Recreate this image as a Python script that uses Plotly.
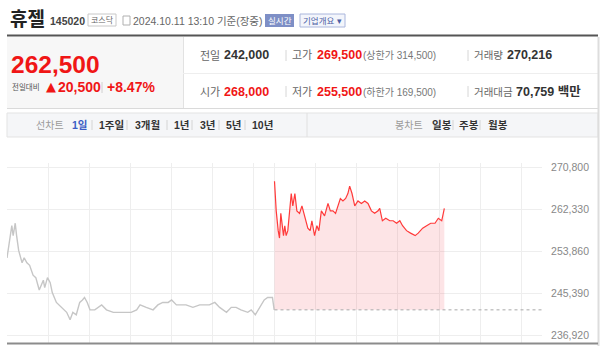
import plotly.graph_objects as go

# ---------------- data ----------------
prev_close = 242000
ytick_vals = [236920, 245390, 253860, 262330, 270800]
ytick_text = ["236,920", "245,390", "253,860", "262,330", "270,800"]
hour_grid = [0, 60, 120, 180, 240, 300, 360, 390, 450, 510, 570, 630, 690, 750]

# previous session (2024.10.10), minutes since 09:00
day1_min = [0, 4, 7, 9, 12, 14, 17, 22, 25, 29, 33, 38, 42, 47, 53, 55, 59, 63, 66, 72,
            80, 87, 92, 96, 101, 106, 110, 113, 117, 121, 128, 138, 145, 155, 164, 174, 181,
            189, 194, 203, 213, 220, 227, 235, 240, 247, 254, 261, 271, 281, 288, 295, 303,
            310, 320, 327, 334, 341, 351, 356, 362, 368, 375, 380, 387, 389.5]
day1_price = [252500, 256000, 259000, 257000, 259500, 257000, 254000, 251500, 252500, 251500,
              251000, 249000, 248500, 246000, 248000, 246500, 248500, 247500, 245500, 243500,
              242500, 241500, 240000, 241500, 241000, 243500, 244000, 244500, 243500, 242000,
              242000, 243000, 242000, 241500, 241500, 241500, 241500, 242000, 243000, 242500,
              242000, 243000, 243500, 243500, 244000, 243000, 243000, 243000, 242500, 243000,
              243000, 243000, 243500, 242500, 241500, 242500, 242500, 242000, 241500, 242000,
              241000, 242500, 244000, 244500, 244500, 242000]

# current session (2024.10.11), minutes since previous 09:00 (offset 390)
day2_min = [390, 392.5, 395.4, 397.3, 399.2, 401.2, 403.1, 405, 407, 409.4, 412, 414.4, 416.7,
            419.7, 422.6, 426.5, 430, 434, 438.6, 442, 444.5, 448.4, 451.8, 454.7, 458.3, 463,
            468, 471.4, 475.2, 479, 482.5, 486, 489.8, 493.7, 497, 499.6, 503, 507, 511.7,
            516.7, 521.5, 526.3, 531.3, 536, 541, 543.4, 547.3, 552.2, 558, 563, 568, 572.7,
            576.7, 582.5, 588.4, 595.1, 599.5, 606, 611.8, 617.7, 624, 628.8, 633.8, 637.6]
day2_price = [268000, 262000, 258000, 256500, 261500, 259500, 257000, 259000, 257000, 258000,
              262000, 265500, 263000, 265500, 262000, 261500, 263000, 261000, 258500, 258000,
              260000, 257000, 259000, 258000, 262000, 261000, 263500, 262000, 262000, 261500,
              263000, 264500, 264000, 264500, 265500, 267000, 265500, 263000, 264000, 263500,
              264000, 263500, 262000, 261500, 262000, 262500, 260000, 260500, 260000, 260000,
              259500, 260000, 259000, 258000, 257500, 257000, 257500, 258500, 259000, 259500,
              259500, 260500, 260000, 262500]

# ---------------- geometry helpers ----------------
L, R, T, B = 7, 542, 163, 343
def px(x):
    return (x - L) / (R - L)
def py(y):
    return (B - y) / (B - T)

FONT = "Liberation Sans, Noto Sans CJK KR, sans-serif"
RED = "#f01616"

fig = go.Figure()
fig.add_trace(go.Scatter(x=day1_min, y=day1_price, mode="lines",
                         line=dict(color="#c6c6c6", width=1.4), hoverinfo="skip"))
fig.add_trace(go.Scatter(x=[day2_min[0], day2_min[-1]], y=[prev_close, prev_close],
                         mode="lines", line=dict(width=0, color="rgba(0,0,0,0)"), hoverinfo="skip"))
fig.add_trace(go.Scatter(x=day2_min, y=day2_price, mode="lines", fill="tonexty",
                         fillcolor="rgba(240,50,60,0.13)",
                         line=dict(color="#ff3a3a", width=1.2), hoverinfo="skip"))
fig.add_trace(go.Scatter(x=[390, 780], y=[prev_close, prev_close], mode="lines",
                         line=dict(color="#a8a8a8", width=1, dash="dot"), hoverinfo="skip"))

shapes = []
def rect(x0, y0, x1, y1, fill=None, line=None, lw=1):
    shapes.append(dict(type="rect", xref="paper", yref="paper", x0=px(x0), x1=px(x1),
                       y0=py(y1), y1=py(y0), fillcolor=fill or "rgba(0,0,0,0)",
                       line=dict(color=line or "rgba(0,0,0,0)", width=lw if line else 0), layer="below"))
def hline(x0, x1, y, color, w=1, layer="above"):
    shapes.append(dict(type="line", xref="paper", yref="paper", x0=px(x0), x1=px(x1),
                       y0=py(y), y1=py(y), line=dict(color=color, width=w), layer=layer))
def vline(x, y0, y1, color, w=1):
    shapes.append(dict(type="line", xref="paper", yref="paper", x0=px(x), x1=px(x),
                       y0=py(y0), y1=py(y1), line=dict(color=color, width=w)))

# header
hline(7, 598, 35.5, "#555555", 2)
rect(88, 14, 116, 26, fill="#ffffff", line="#c8c8c8")
rect(123, 16, 130, 25, fill="#ffffff", line="#b0b0b0")
rect(265, 14, 294, 27, fill="#7e8fc6")
rect(300, 14, 345, 27, fill="#f3f5fb", line="#aab6dc")
# price block
rect(7, 37, 183, 108, fill="#f7f7f7")
vline(183.5, 37, 108, "#e2e2e2")
hline(183, 598, 73.5, "#eeeeee")
hline(7, 598, 108.5, "#dadada")
vline(102, 82, 93, "#d0d0d0")
for sx in (286, 468):
    vline(sx, 50, 61, "#d6d6d6")
    vline(sx, 86, 97, "#d6d6d6")
# tab bar
rect(7, 113, 598, 137, fill="#f5f6f8", line="#e3e3e3")
vline(307, 113, 137, "#e0e0e0")
for sx in (92, 127, 167, 192, 219, 245, 453, 480):
    vline(sx, 120, 130, "#d4d4d4")
# right border and bottom axis
vline(598.5, 37, 346, "#dddddd", 2)
hline(7, 598, 343.5, "#8c8c8c", 2)

ann = []
def txt(x, y, s, size, color, anchor="left", family=FONT):
    ann.append(dict(xref="paper", yref="paper", x=px(x), y=py(y), text=s, showarrow=False,
                    xanchor=anchor, yanchor="middle", borderpad=0,
                    font=dict(family=family, size=size, color=color)))

txt(9, 19, "<b>휴젤</b>", 19, "#222222")
txt(49, 21, "<b>145020</b>", 10.5, "#444444")
txt(102, 20, "코스닥", 8, "#666666", "center")
txt(132, 21, "2024.10.11 13:10 기준(장중)", 10.5, "#666666")
txt(279.5, 20.5, "실시간", 8.5, "#ffffff", "center")
txt(322.5, 20.5, "기업개요 ▾", 8.5, "#4d5fa5", "center")

txt(10, 65, "<b>262,500</b>", 24.5, RED)
txt(11, 87.5, "전일대비", 7.5, "#555555")
txt(51, 87, "▲", 13, RED, "center", "DejaVu Sans")
txt(57, 87.5, "<b>20,500</b>", 14, RED)
txt(106, 87.5, "<b>+8.47%</b>", 14, RED)

r1, r2 = 55.5, 91.5
txt(199, r1, "전일", 11, "#666666")
txt(223, r1, "<b>242,000</b>", 12.5, "#333333")
txt(291, r1, "고가", 11, "#666666")
txt(316, r1, "<b>269,500</b>", 12.5, RED)
txt(362, r1, "(상한가 314,500)", 10, "#777777")
txt(473, r1, "거래량", 10.5, "#666666")
txt(506, r1, "<b>270,216</b>", 12.5, "#333333")
txt(199, r2, "시가", 11, "#666666")
txt(223, r2, "<b>268,000</b>", 12.5, RED)
txt(291, r2, "저가", 11, "#666666")
txt(316, r2, "<b>255,500</b>", 12.5, RED)
txt(362, r2, "(하한가 169,500)", 10, "#777777")
txt(473, r2, "거래대금", 10.5, "#666666")
txt(515, r2, "<b>70,759 백만</b>", 12.5, "#333333")

ty = 125
txt(35, ty, "선차트", 10, "#9a9a9a")
txt(71, ty, "<b>1일</b>", 10.5, "#3b5cc4")
txt(98, ty, "<b>1주일</b>", 10.5, "#333333")
txt(134, ty, "<b>3개월</b>", 10.5, "#333333")
txt(173, ty, "<b>1년</b>", 10.5, "#333333")
txt(199, ty, "<b>3년</b>", 10.5, "#333333")
txt(225, ty, "<b>5년</b>", 10.5, "#333333")
txt(251, ty, "<b>10년</b>", 10.5, "#333333")
txt(394, ty, "봉차트", 10, "#9a9a9a")
txt(431, ty, "<b>일봉</b>", 10.5, "#333333")
txt(458, ty, "<b>주봉</b>", 10.5, "#333333")
txt(487, ty, "<b>월봉</b>", 10.5, "#333333")

# y range from pixel geometry: 270800 at y=167.3, 236920 at y=335
upp = (270800 - 236920) / (335 - 167.3)
y_top = 270800 + (167.3 - T) * upp
y_bot = 236920 - (B - 335) * upp

fig.update_layout(
    width=600, height=346, margin=dict(l=L, r=600 - R, t=T, b=346 - B),
    paper_bgcolor="#ffffff", plot_bgcolor="#ffffff", showlegend=False,
    shapes=shapes, annotations=ann,
    xaxis=dict(range=[0, 780], tickvals=hour_grid, showticklabels=False, showgrid=True,
               gridcolor="#eeeeee", gridwidth=1, zeroline=False, showline=False, ticks="",
               fixedrange=True),
    yaxis=dict(range=[y_bot, y_top], tickvals=ytick_vals, ticktext=ytick_text, side="right",
               showgrid=True, gridcolor="#eeeeee", gridwidth=1, zeroline=False, showline=False,
               ticks="outside", ticklen=6, tickcolor="rgba(0,0,0,0)",
               tickfont=dict(family="Liberation Sans, Arial", size=10.5, color="#888888"),
               fixedrange=True),
)
fig.write_html("out.html", config={"displayModeBar": False})
